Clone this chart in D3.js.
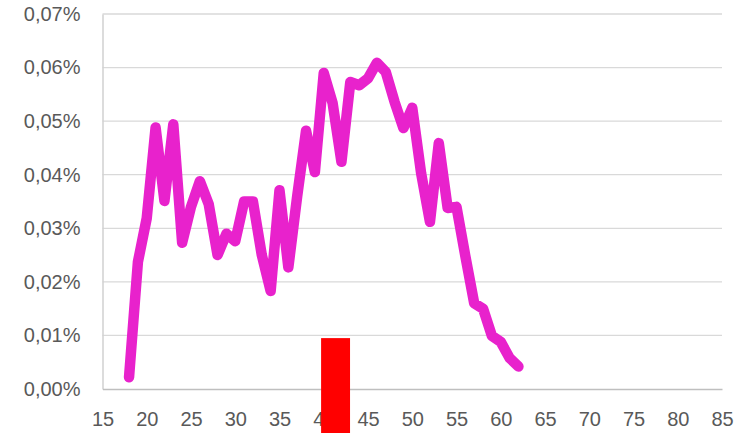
<!DOCTYPE html>
<html lang='en'>
<head>
<meta charset="utf-8">
<script src="https://d3js.org/d3.v7.min.js"></script>
<style>
  html, body { margin: 0; padding: 0; background: #fff; }
  svg { display: block; }
</style>
</head>
<body>
<div id="chart"></div>
<script>

// share of population by age (%, shown with comma decimals)
var ages = [18, 19, 20, 21, 22, 23, 24, 25, 26, 27, 28, 29, 30, 31, 32, 33, 34, 35, 36, 37,
            38, 39, 40, 41, 42, 43, 44, 45, 46, 47, 48, 49, 50, 51, 52, 53, 54, 55, 56, 57,
            58, 59, 60, 61, 62];
var shares = [0.0022, 0.0237, 0.0319, 0.0488, 0.0351, 0.0494, 0.0273, 0.0340, 0.0388, 0.0345,
              0.0250, 0.0290, 0.0276, 0.0350, 0.0350, 0.0250, 0.0183, 0.0371, 0.0227, 0.0360,
              0.0482, 0.0405, 0.0590, 0.0534, 0.0424, 0.0573, 0.0567, 0.0580, 0.0609, 0.0592,
              0.0536, 0.0487, 0.0525, 0.0403, 0.0312, 0.0459, 0.0338, 0.0340, 0.0248, 0.0160,
              0.0150, 0.0099, 0.0088, 0.0058, 0.0042];

// highlighted band (red bar)
var barStart = [39.7];
var barEnd = [42.97];
var barValue = [0.0095];

var xTicks = [15, 20, 25, 30, 35, 40, 45, 50, 55, 60, 65, 70, 75, 80, 85];
var yTicks = [0, 0.01, 0.02, 0.03, 0.04, 0.05, 0.06, 0.07];

var W = 746, H = 433;
var plotLeft = 102.5, plotRight = 722, plotTop = 14, plotBottom = 389;

var svg = d3.select("#chart").append("svg")
    .attr("width", W)
    .attr("height", H);

var x = d3.scaleLinear().domain([15, 85]).range([plotLeft, plotRight]);
var y = d3.scaleLinear().domain([0, 0.07]).range([plotBottom, plotTop]);

var fmt = function(d) { return d3.format(".2f")(d).replace(".", ",") + "%"; };

// gridlines
svg.append("g")
  .selectAll("line")
  .data(yTicks.filter(function(d) { return d > 0; }))
  .enter().append("line")
    .attr("x1", plotLeft).attr("x2", plotRight)
    .attr("y1", function(d) { return y(d); })
    .attr("y2", function(d) { return y(d); })
    .attr("stroke", "#d9d9d9")
    .attr("stroke-width", 1.3);

// y axis
var yAxis = svg.append("g")
    .attr("transform", "translate(" + plotLeft + ",0)")
    .call(d3.axisLeft(y).tickValues(yTicks).tickFormat(fmt).tickSize(0).tickPadding(22));
yAxis.select(".domain").attr("stroke", "#d0d0d0").attr("stroke-width", 1.5);
yAxis.selectAll("text")
    .attr("fill", "#595959")
    .style("font-family", "'Liberation Sans', Arial, sans-serif")
    .style("font-size", "20px");

// x axis
var xAxis = svg.append("g")
    .attr("transform", "translate(0," + plotBottom + ")")
    .call(d3.axisBottom(x).tickValues(xTicks).tickSize(0).tickPadding(23));
xAxis.select(".domain").attr("stroke", "#bfbfbf").attr("stroke-width", 1.5);
xAxis.selectAll("text")
    .attr("fill", "#595959")
    .style("font-family", "'Liberation Sans', Arial, sans-serif")
    .style("font-size", "20px");

// line
var line = d3.line()
    .x(function(d, i) { return x(ages[i]); })
    .y(function(d) { return y(d); });

svg.append("path")
    .datum(shares)
    .attr("d", line)
    .attr("fill", "none")
    .attr("stroke", "#e822cc")
    .attr("stroke-width", 10.5)
    .attr("stroke-linejoin", "round")
    .attr("stroke-linecap", "round");

// red bar, runs off the bottom edge
svg.append("g")
  .selectAll("rect")
  .data(barValue)
  .enter().append("rect")
    .attr("x", function(d, i) { return x(barStart[i]); })
    .attr("width", function(d, i) { return x(barEnd[i]) - x(barStart[i]); })
    .attr("y", function(d) { return y(d); })
    .attr("height", function(d) { return H - y(d); })
    .attr("fill", "#ff0000");

</script>
</body>
</html>
